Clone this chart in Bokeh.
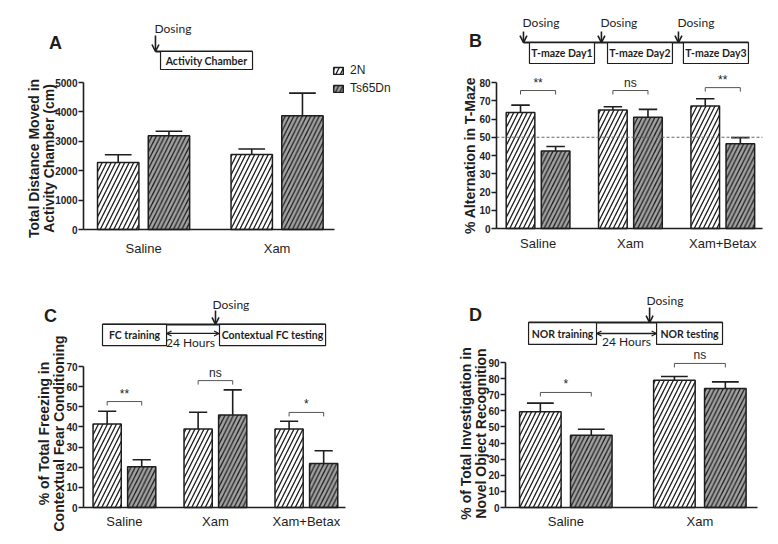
import numpy as np
from bokeh.plotting import figure
from bokeh.layouts import column, row
from bokeh.models import (Range1d, FixedTicker, SingleIntervalTicker, Label,
                          Legend, LegendItem, Arrow, OpenHead)
from bokeh.embed import file_html
from bokeh.resources import INLINE
from bokeh.core.properties import value

# ---------------- data ----------------
series_names = ["2N", "Ts65Dn"]

groups_A = ["Saline", "Xam"]
A_2N = [2280, 2550]
A_2N_sem = [260, 190]
A_Ts = [3190, 3870]
A_Ts_sem = [150, 770]

groups_B = ["Saline", "Xam", "Xam+Betax"]
B_2N = [63.6, 64.9, 67.1]
B_2N_sem = [4.0, 1.8, 4.0]
B_Ts = [42.4, 60.9, 46.5]
B_Ts_sem = [2.5, 4.4, 3.3]
B_sig = ["**", "ns", "**"]
B_sig_y = [75.6, 75.6, 77.2]
B_chance = 50

groups_C = ["Saline", "Xam", "Xam+Betax"]
C_2N = [41.5, 39.0, 39.0]
C_2N_sem = [6.3, 8.3, 3.8]
C_Ts = [20.2, 45.9, 21.9]
C_Ts_sem = [3.5, 12.5, 6.3]
C_sig = ["**", "ns", "*"]
C_sig_y = [52.6, 63.0, 47.2]

groups_D = ["Saline", "Xam"]
D_2N = [59.4, 79.0]
D_2N_sem = [5.4, 2.3]
D_Ts = [44.9, 73.9]
D_Ts_sem = [3.7, 4.1]
D_sig = ["*", "ns"]
D_sig_y = [71.4, 89.4]

# ---------------- style ----------------
FONT = "Liberation Sans"
TFONT = "Lato"
FILL_2N = "white"
FILL_TS = "#a2a2a2"
INK = "#1e1e1e"
BAR_W, OFF, CAP = 0.31, 0.19, 0.2
X_LO, X_HI_PAD = -0.45, 0.43


class Panel:
    """A figure whose frame covers the whole panel; axes are fixed inside it."""

    def __init__(self, groups, m1, e1, m2, e2, ymax, ystep,
                 w, h, ax_left, ax_bottom, plot_w, plot_h, xstand):
        n = len(groups)
        self.x_hi = n - 1 + X_HI_PAD
        self.s = plot_w / (self.x_hi - X_LO)      # px per x unit
        self.ppu = plot_h / ymax                  # px per y unit
        x0 = X_LO - ax_left / self.s
        y0 = -ax_bottom / self.ppu
        self.x0, self.y1, self.h = x0, y0 + h / self.ppu, h
        p = figure(width=w, height=h,
                   x_range=Range1d(x0, x0 + w / self.s),
                   y_range=Range1d(y0, y0 + h / self.ppu),
                   output_backend="svg", toolbar_location=None,
                   min_border=0)
        p.outline_line_color = None
        p.xgrid.visible = False
        p.ygrid.visible = False
        p.background_fill_color = "white"
        p.border_fill_color = "white"

        ya = p.yaxis[0]
        ya.fixed_location = X_LO
        ya.ticker = SingleIntervalTicker(interval=ystep)
        ya.bounds = (0, ymax)
        ya.axis_line_width = 1.6
        ya.axis_line_color = INK
        ya.major_tick_line_width = 1.5
        ya.major_tick_line_color = INK
        ya.major_tick_out = 5
        ya.major_tick_in = 0
        ya.minor_tick_line_color = None
        ya.major_label_text_font = FONT
        ya.major_label_text_font_style = "bold"
        ya.major_label_text_font_size = "10px"
        ya.major_label_standoff = 1
        ya.major_label_text_color = INK

        xa = p.xaxis[0]
        xa.fixed_location = 0
        xa.ticker = FixedTicker(ticks=list(range(n)))
        xa.major_label_overrides = {i: g for i, g in enumerate(groups)}
        xa.bounds = (X_LO, self.x_hi)
        xa.axis_line_width = 1.6
        xa.axis_line_color = INK
        xa.major_tick_line_color = None
        xa.major_tick_out = 0
        xa.major_tick_in = 0
        xa.minor_tick_line_color = None
        xa.major_label_text_font = FONT
        xa.major_label_text_font_size = "13px"
        xa.major_label_standoff = xstand
        xa.major_label_text_color = INK

        x = np.arange(n)
        self.r1 = p.vbar(x=x - OFF, top=m1, width=BAR_W, fill_color=FILL_2N,
                         line_color=INK, line_width=1.5, hatch_pattern="/",
                         hatch_color=INK, hatch_scale=9, hatch_weight=1.3)
        self.r2 = p.vbar(x=x + OFF, top=m2, width=BAR_W, fill_color=FILL_TS,
                         line_color=INK, line_width=1.5, hatch_pattern="/",
                         hatch_color=INK, hatch_scale=8.5, hatch_weight=1.3)
        for xs, m, e in ((x - OFF, m1, e1), (x + OFF, m2, e2)):
            top = np.array(m) + np.array(e)
            p.segment(x0=xs, y0=m, x1=xs, y1=top, line_color=INK, line_width=1.6)
            p.segment(x0=xs - CAP / 2, y0=top, x1=xs + CAP / 2, y1=top,
                      line_color=INK, line_width=1.6)
        self.p = p

    # pixel (from panel's top-left) -> data
    def X(self, px):
        return self.x0 + px / self.s

    def Y(self, py):
        return self.y1 - py / self.ppu

    def ylabel(self, lines, xs, yc):
        for t, xx in zip(lines, xs):
            self.p.add_layout(Label(x=self.X(xx), y=self.Y(yc), text=t, angle=np.pi / 2,
                                    text_align="center", text_baseline="middle",
                                    text_font=FONT, text_font_style="bold",
                                    text_font_size="14px", text_color=INK))

    def letter(self, t, px, py):
        self.p.add_layout(Label(x=self.X(px), y=self.Y(py), text=t, text_align="center",
                                text_baseline="middle", text_font=FONT,
                                text_font_style="bold", text_font_size="18px",
                                text_color=INK))

    def refline(self, yv):
        self.p.segment(x0=[X_LO], y0=[yv], x1=[self.x_hi], y1=[yv], line_color="#666",
                       line_dash="3 2", line_width=1)

    def sig(self, labels, ys):
        p = self.p
        n = len(labels)
        x = np.arange(n)
        ys = np.array(ys)
        d = 4 / self.ppu
        kw = dict(line_color="#555", line_width=1)
        p.segment(x0=x - OFF, y0=ys, x1=x + OFF, y1=ys, **kw)
        p.segment(x0=x - OFF, y0=ys, x1=x - OFF, y1=ys - d, **kw)
        p.segment(x0=x + OFF, y0=ys, x1=x + OFF, y1=ys - d, **kw)
        p.text(x=x, y=ys + 1 / self.ppu, text=labels, text_align="center",
               text_baseline="bottom", text_font=value(FONT), text_font_size="12px",
               text_color=INK)

    def box(self, x0, x1, y0, y1, t):
        self.p.quad(left=[x0], right=[x1], bottom=[y0], top=[y1], fill_color="white",
                    line_color=INK, line_width=1.2)
        self.p.add_layout(Label(x=(x0 + x1) / 2, y=(y0 + y1) / 2, text=t,
                                text_align="center", text_baseline="middle",
                                text_font=TFONT, text_font_style="bold",
                                text_font_size="10.5px", text_color=INK))

    def hline(self, x0, x1, y):
        self.p.segment(x0=[x0], y0=[y], x1=[x1], y1=[y], line_color=INK, line_width=2)

    def dose(self, x, xt, yt, y0, y1):
        self.p.add_layout(Label(x=xt, y=yt, text="Dosing", text_align="left",
                                text_baseline="middle", text_font=TFONT,
                                text_font_size="12px", text_color=INK))
        self.p.add_layout(Arrow(end=OpenHead(size=7, line_width=1.6, line_color=INK),
                                x_start=x, y_start=y0, x_end=x, y_end=y1,
                                line_width=1.6, line_color=INK))

    def gap(self, x0, x1, y, xt, yt):
        self.p.add_layout(Arrow(start=OpenHead(size=5, line_width=1.3, line_color=INK),
                                end=OpenHead(size=5, line_width=1.3, line_color=INK),
                                x_start=x0, y_start=y, x_end=x1, y_end=y,
                                line_width=1.3, line_color=INK))
        self.p.add_layout(Label(x=xt, y=yt, text="24 Hours", text_align="center",
                                text_baseline="middle", text_font=TFONT,
                                text_font_size="12px", text_color=INK))


# ---------------- panel A ----------------
A = Panel(groups_A, A_2N, A_2N_sem, A_Ts, A_Ts_sem, 5000, 1000,
          400, 272, 83, 43, 251, 147, 11)
A.ylabel(["Total Distance Moved in", "Activity Chamber (cm)"], [33, 48], 158)
A.letter("A", 55, 42)
A.dose(0.089, 0.082, 6836, 6598, 6054)
A.hline(0.089, 0.816, 6054)
A.box(0.127, 0.816, 5442, 6054, "Activity Chamber")
legend = Legend(items=[LegendItem(label=series_names[0], renderers=[A.r1]),
                       LegendItem(label=series_names[1], renderers=[A.r2])],
                location=(332, 177), background_fill_alpha=0, border_line_color=None,
                padding=0, margin=0, spacing=4, glyph_width=12, glyph_height=9,
                label_height=13, label_standoff=6, label_text_font=FONT,
                label_text_font_size="12px", label_text_color=INK)
A.p.add_layout(legend)

# ---------------- panel B ----------------
B = Panel(groups_B, B_2N, B_2N_sem, B_Ts, B_Ts_sem, 80, 10,
          378, 272, 96, 44, 266, 146, 7)
B.ylabel(["% Alternation in T-Maze"], [69], 155)
B.letter("B", 75, 40)
B.refline(B_chance)
B.sig(B_sig, B_sig_y)
for xd in (-0.158, 0.686, 1.520):
    B.dose(xd, xd - 0.01, 112.9, 107.9, 101.9)
B.hline(-0.158, 2.278, 101.9)
for (bx0, bx1), t in zip([(-0.093, 0.611), (0.752, 1.455), (1.574, 2.278)],
                         ["T-maze Day1", "T-maze Day2", "T-maze Day3"]):
    B.box(bx0, bx1, 90.4, 101.9, t)

# ---------------- panel C ----------------
C = Panel(groups_C, C_2N, C_2N_sem, C_Ts, C_Ts_sem, 70, 10,
          400, 272, 83, 37, 262, 141, 6)
C.ylabel(["% of Total Freezing in", "Contextual Fear Conditioning"], [43, 58], 161)
C.letter("C", 50, 43)
C.sig(C_sig, C_sig_y)
C.hline(-0.241, 2.211, 90.9)
C.box(-0.241, 0.463, 80.4, 90.9, "FC training")
C.box(1.045, 2.211, 80.4, 90.9, "Contextual FC testing")
C.gap(0.463, 1.04, 86.4, 0.727, 81.9)
C.dose(1.001, 0.968, 100.8, 97.8, 90.9)

# ---------------- panel D ----------------
D = Panel(groups_D, D_2N, D_2N_sem, D_Ts, D_Ts_sem, 90, 10,
          378, 272, 105, 37, 252, 145, 6)
D.ylabel(["% of Total Investigation in", "Novel Object Recognition"], [65, 80], 161)
D.letter("D", 75, 42)
D.sig(D_sig, D_sig_y)
D.hline(-0.278, 1.169, 114.8)
D.box(-0.278, 0.229, 101.2, 114.8, "NOR training")
D.box(0.677, 1.169, 101.2, 114.8, "NOR testing")
D.gap(0.229, 0.677, 108.0, 0.453, 103.0)
D.dose(0.625, 0.602, 128.5, 124.1, 114.8)

layout = column(row(A.p, B.p), row(C.p, D.p))
open("out.html", "w").write(file_html(layout, INLINE))
